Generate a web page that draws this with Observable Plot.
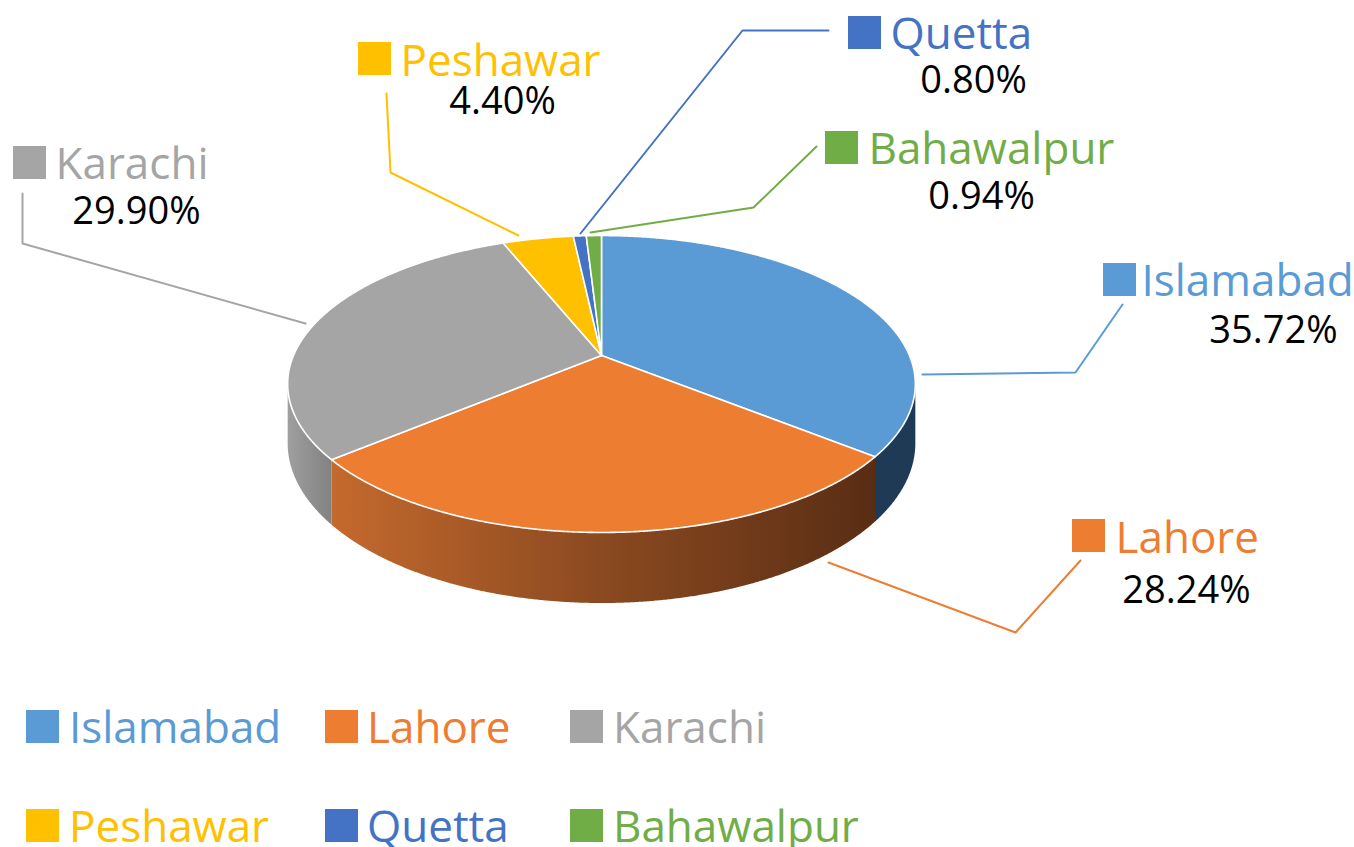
<!DOCTYPE html>
<html><head><meta charset="utf-8">
<script src="https://cdn.jsdelivr.net/npm/d3@7"></script>
<script src="https://cdn.jsdelivr.net/npm/@observablehq/plot@0.6"></script>
<style>
body{margin:0;background:#fff;font-family:"Open Sans",sans-serif;overflow:hidden;}
#legend{position:relative;width:1354px;height:167px;}
#legend .sq{position:absolute;width:33px;height:33px;}
#legend .tx{position:absolute;font-size:44px;line-height:44px;white-space:nowrap;}
</style></head><body>
<div id="chart"></div><div id="legend"></div>
<script>
// ---- data ----
const cities = ["Islamabad", "Lahore", "Karachi", "Peshawar", "Quetta", "Bahawalpur"];
const shares = [35.72, 28.24, 29.90, 4.40, 0.80, 0.94];
const pctLabels = ["35.72%", "28.24%", "29.90%", "4.40%", "0.80%", "0.94%"];
const colors = ["#5B9BD5", "#ED7D31", "#A5A5A5", "#FFC000", "#4472C4", "#70AD47"];

// ---- layout ----
const W = 1354, H = 680;
const pie = {cx: 601, cy: 355, sx: 308, sy: 143, persp: 0.192, depth: 57};
const labelLayout = {
  Islamabad:  {sq: [1103, 263], nx: 1141, ny: 295, px: 1273, py: 342, leader: [[1122,304],[1075,372],[922,374]]},
  Lahore:     {sq: [1072, 519], nx: 1115, ny: 552, px: 1186, py: 602, leader: [[1080,560],[1015,632],[828,562]]},
  Karachi:    {sq: [13, 146],   nx: 55,   ny: 178, px: 136,  py: 223, leader: [[22,193],[22,243],[305,323]]},
  Peshawar:   {sq: [358, 42],   nx: 400,  ny: 75,  px: 502,  py: 113, leader: [[386,93],[390,172],[518,235]]},
  Quetta:     {sq: [848, 16],   nx: 890,  ny: 48,  px: 973,  py: 92,  leader: [[828,30],[742,30],[580,233]]},
  Bahawalpur: {sq: [825, 131],  nx: 868,  ny: 163, px: 981,  py: 208, leader: [[816,146],[753,207],[590,232]]}
};
const legendLayout = {
  cols: [[26, 69], [325, 367], [570, 613]],
  rows: [30, 129], textTop: [24, 123]
};

// ---- geometry (projected 3D pie) ----
const TAU = 2 * Math.PI;
function proj(t, drop) {
  const x = Math.sin(t), y = Math.cos(t), w = 1 + pie.persp * y;
  return [pie.cx + pie.sx * x / w, pie.cy - pie.sy * y / w + drop * pie.depth / w];
}
function arc(a0, a1, drop) {
  const n = Math.max(2, Math.ceil((a1 - a0) / (TAU / 1440)));
  return d3.range(n + 1).map(k => proj(a0 + (a1 - a0) * k / n, drop));
}
const total = d3.sum(shares);
let acc = 0;
const slices = cities.map((c, i) => {
  const a0 = acc / total * TAU; acc += shares[i];
  return {city: c, a0, a1: acc / total * TAU};
});
const topRows = [];
for (const s of slices) {
  const pts = [[pie.cx, pie.cy], ...arc(s.a0, s.a1, 0), [pie.cx, pie.cy]];
  for (const [x, y] of pts) topRows.push({city: s.city, x, y});
}
const tS = Math.acos(-pie.persp), tE = TAU - tS;
const sideRows = [];
for (const s of slices) {
  const b0 = Math.max(s.a0, tS), b1 = Math.min(s.a1, tE);
  if (b1 <= b0) continue;
  const pts = [...arc(b0, b1, 0), ...arc(b0, b1, 1).reverse()];
  for (const [x, y] of pts) sideRows.push({city: s.city, x, y});
}
const sideFill = {Islamabad: "#1F3A55", Lahore: "url(#gLahore)", Karachi: "url(#gKarachi)"};

const leaderRows = [];
const labelRows = cities.map((c, i) => {
  const L = labelLayout[c];
  for (const [x, y] of L.leader) leaderRows.push({city: c, x, y});
  return {city: c, pct: pctLabels[i], x1: L.sq[0], x2: L.sq[0] + 33, y1: L.sq[1], y2: L.sq[1] + 33,
          nx: L.nx, ny: L.ny, px: L.px, py: L.py};
});

const sideMarks = Object.keys(sideFill).map(c =>
  Plot.line(sideRows.filter(d => d.city === c), {x: "x", y: "y", fill: sideFill[c], stroke: "none"}));

const svg = Plot.plot({
  width: W, height: H, margin: 0,
  x: {domain: [0, W], range: [0, W], axis: null},
  y: {domain: [0, H], range: [0, H], axis: null},
  color: {domain: cities, range: colors},
  style: {fontFamily: '"Open Sans", sans-serif', background: "white", overflow: "visible"},
  marks: [
    ...sideMarks,
    Plot.line(topRows, {x: "x", y: "y", z: "city", fill: "city", stroke: "white", strokeWidth: 1.6, strokeLinejoin: "round"}),
    Plot.line(leaderRows, {x: "x", y: "y", z: "city", stroke: "city", strokeWidth: 2}),
    Plot.rect(labelRows, {x1: "x1", x2: "x2", y1: "y1", y2: "y2", fill: "city"}),
    Plot.text(labelRows, {x: "nx", y: "ny", text: "city", fill: "city", textAnchor: "start", lineAnchor: "bottom", fontSize: 44}),
    Plot.text(labelRows, {x: "px", y: "py", text: "pct", fill: "#000", textAnchor: "middle", lineAnchor: "bottom", fontSize: 38})
  ]
});
const defs = d3.select(svg).insert("defs", ":first-child");
const g1 = defs.append("linearGradient").attr("id", "gLahore").attr("gradientUnits", "userSpaceOnUse")
  .attr("x1", 333).attr("x2", 876).attr("y1", 0).attr("y2", 0);
g1.append("stop").attr("offset", 0).attr("stop-color", "#C4692D");
g1.append("stop").attr("offset", 0.5).attr("stop-color", "#8A4920");
g1.append("stop").attr("offset", 1).attr("stop-color", "#592D14");
const g2 = defs.append("linearGradient").attr("id", "gKarachi").attr("gradientUnits", "userSpaceOnUse")
  .attr("x1", 286).attr("x2", 336).attr("y1", 0).attr("y2", 0);
g2.append("stop").attr("offset", 0).attr("stop-color", "#A0A0A0");
g2.append("stop").attr("offset", 1).attr("stop-color", "#7E7E7E");
document.getElementById("chart").appendChild(svg);

// ---- legend ----
const leg = document.getElementById("legend");
cities.forEach((c, i) => {
  const col = legendLayout.cols[i % 3], r = Math.floor(i / 3);
  const sq = document.createElement("div");
  sq.className = "sq"; sq.style.left = col[0] + "px"; sq.style.top = legendLayout.rows[r] + "px";
  sq.style.background = colors[i];
  const tx = document.createElement("div");
  tx.className = "tx"; tx.style.left = col[1] + "px"; tx.style.top = legendLayout.textTop[r] + "px";
  tx.style.color = colors[i]; tx.textContent = c;
  leg.appendChild(sq); leg.appendChild(tx);
});
</script></body></html>
